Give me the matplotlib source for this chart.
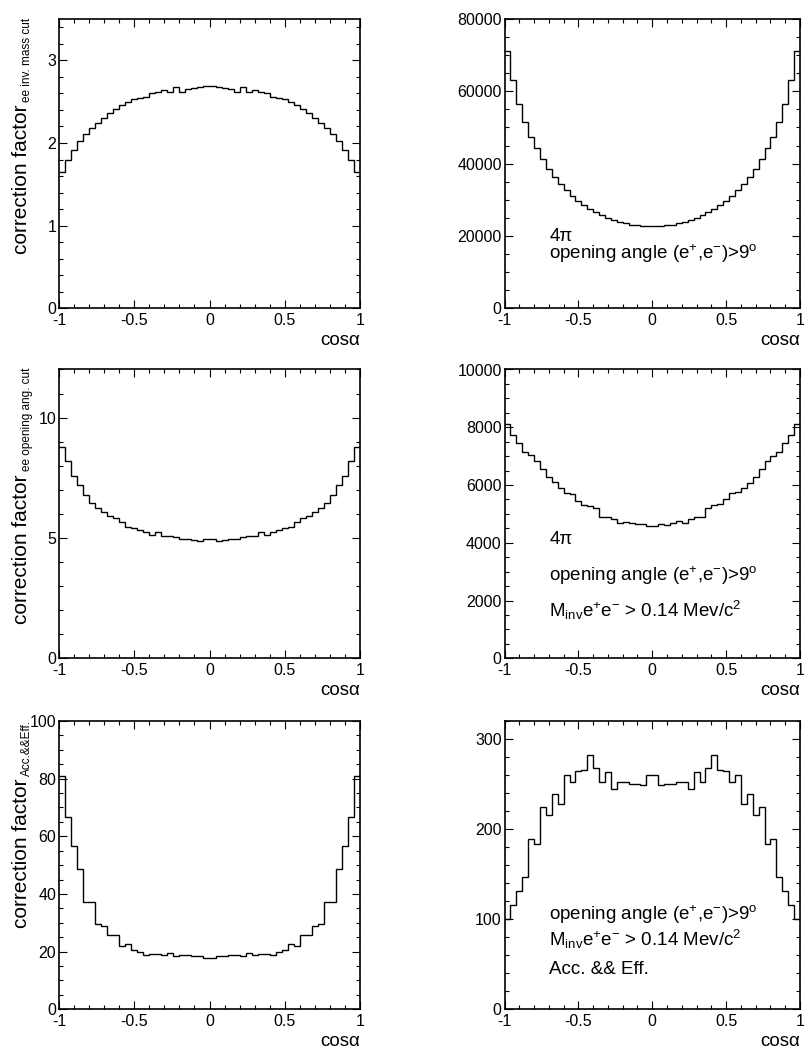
#!/usr/bin/env python3
"""
Angular correction factors and cos(alpha) distributions for e+e- pairs,
shown as 50-bin histograms in a 3x2 grid.
"""
import numpy as np
import matplotlib
matplotlib.use("Agg")
import matplotlib.pyplot as plt
from matplotlib.ticker import MultipleLocator, FuncFormatter

plt.rcParams["font.family"] = ["Liberation Sans", "DejaVu Sans"]
plt.rcParams["mathtext.fontset"] = "custom"
plt.rcParams["mathtext.rm"] = "Liberation Sans"
plt.rcParams["mathtext.it"] = "Liberation Sans:italic"
plt.rcParams["mathtext.default"] = "regular"
plt.rcParams["axes.unicode_minus"] = False

N_BINS = 50
X_LO, X_HI = -1.0, 1.0

# correction factor, e+e- invariant mass cut
corr_mass = [1.65, 1.80, 1.91, 2.03, 2.11, 2.18, 2.24, 2.30, 2.36, 2.41,
             2.46, 2.49, 2.53, 2.54, 2.56, 2.60, 2.62, 2.64, 2.62, 2.68,
             2.62, 2.65, 2.66, 2.68, 2.69, 2.69, 2.68, 2.66, 2.65, 2.62,
             2.68, 2.62, 2.64, 2.62, 2.60, 2.56, 2.54, 2.53, 2.49, 2.46,
             2.41, 2.36, 2.30, 2.24, 2.18, 2.11, 2.03, 1.91, 1.80, 1.65]

# 4pi, opening angle > 9 deg
counts_open = [71200, 63000, 56500, 51500, 47500, 44200, 41200, 38400, 36300, 34400,
               32700, 31100, 29700, 28600, 27500, 26500, 25700, 25000, 24400, 23900,
               23500, 23100, 22900, 22800, 22750, 22750, 22800, 22900, 23100, 23500,
               23900, 24400, 25000, 25700, 26500, 27500, 28600, 29700, 31100, 32700,
               34400, 36300, 38400, 41200, 44200, 47500, 51500, 56500, 63000, 71200]

# correction factor, e+e- opening angle cut
corr_open = [8.80, 8.19, 7.59, 7.19, 6.77, 6.47, 6.26, 6.07, 5.93, 5.82,
             5.68, 5.44, 5.43, 5.35, 5.24, 5.12, 5.25, 5.07, 5.07, 5.04,
             4.96, 4.96, 4.93, 4.86, 4.94, 4.94, 4.86, 4.93, 4.96, 4.96,
             5.04, 5.07, 5.07, 5.25, 5.12, 5.24, 5.35, 5.43, 5.44, 5.68,
             5.82, 5.93, 6.07, 6.26, 6.47, 6.77, 7.19, 7.59, 8.19, 8.80]

# 4pi, opening angle > 9 deg, M_inv > 0.14
counts_open_mass = [8110, 7730, 7470, 7150, 7030, 6840, 6570, 6280, 6110, 5890,
                    5740, 5700, 5450, 5320, 5270, 5190, 4900, 4900, 4810, 4690,
                    4730, 4670, 4635, 4635, 4590, 4590, 4650, 4620, 4690, 4740,
                    4670, 4830, 4900, 4900, 5190, 5310, 5330, 5500, 5710, 5760,
                    5900, 6080, 6280, 6570, 6840, 7010, 7150, 7470, 7730, 8110]

# correction factor, acceptance && efficiency
corr_acc = [81.0, 66.6, 56.8, 48.8, 37.1, 37.1, 29.5, 29.0, 25.6, 25.8,
            22.0, 22.7, 20.6, 20.0, 18.9, 19.2, 19.3, 18.9, 19.7, 18.5,
            18.7, 18.7, 18.6, 18.6, 17.7, 17.7, 18.6, 18.6, 18.7, 18.7,
            18.5, 19.7, 18.9, 19.3, 19.2, 18.9, 20.0, 20.6, 22.7, 22.0,
            25.8, 25.6, 29.0, 29.5, 37.1, 37.1, 48.8, 56.8, 66.6, 81.0]

# opening angle, M_inv, Acc. && Eff.
counts_acc = [100, 116, 131.5, 147, 189, 184, 224, 216, 239, 228,
              260, 252, 265, 266, 282, 268, 252, 263, 245, 252,
              252, 250, 250, 249, 260, 260, 249, 250, 250, 252,
              252, 245, 263, 252, 268, 282, 266, 265, 252, 260,
              228, 239, 216, 224, 184, 189, 147, 131.5, 116, 100]

TXT_OPEN = r"opening angle (e$^{+}$,e$^{-}$)>9$^{o}$"
TXT_MASS = r"M$_{inv}$e$^{+}$e$^{-}$ > 0.14 Mev/c$^{2}$"
TXT_ACC = "Acc. && Eff."

PANELS = [
    dict(values=corr_mass, ymax=3.5, major=1, minor=0.2, sub="ee inv. mass cut", notes=[]),
    dict(values=counts_open, ymax=80000, major=20000, minor=5000, sub=None,
         notes=[(0.233, "4π"), (0.172, TXT_OPEN)]),
    dict(values=corr_open, ymax=12, major=5, minor=1, sub="ee opening ang. cut", notes=[]),
    dict(values=counts_open_mass, ymax=10000, major=2000, minor=500, sub=None,
         notes=[(0.397, "4π"), (0.269, TXT_OPEN), (0.144, TXT_MASS)]),
    dict(values=corr_acc, ymax=100, major=20, minor=5, sub="Acc.&&Eff.", notes=[]),
    dict(values=counts_acc, ymax=320, major=100, minor=20, sub=None,
         notes=[(0.31, TXT_OPEN), (0.22, TXT_MASS), (0.122, TXT_ACC)]),
]

FIG_W, FIG_H = 809, 1049
COL_X = [(59, 301), (504.5, 295.5)]           # left, width in px
ROW_Y = [(19, 289.3), (369.5, 288.8), (721, 288.3)]  # top, height in px


def fmt(v, _pos):
    return f"{v:g}"


fig = plt.figure(figsize=(FIG_W / 100, FIG_H / 100), dpi=100)
edges = np.linspace(X_LO, X_HI, N_BINS + 1)

for i, p in enumerate(PANELS):
    row, col = divmod(i, 2)
    x0, w = COL_X[col]
    y0, h = ROW_Y[row]
    ax = fig.add_axes([x0 / FIG_W, 1 - (y0 + h) / FIG_H, w / FIG_W, h / FIG_H])

    ax.stairs(p["values"], edges, baseline=None, color="black", linewidth=1.0)

    ax.set_xlim(X_LO, X_HI)
    ax.set_ylim(0, p["ymax"])
    ax.xaxis.set_major_locator(MultipleLocator(0.5))
    ax.xaxis.set_minor_locator(MultipleLocator(0.1))
    ax.yaxis.set_major_locator(MultipleLocator(p["major"]))
    ax.yaxis.set_minor_locator(MultipleLocator(p["minor"]))
    ax.xaxis.set_major_formatter(FuncFormatter(fmt))
    ax.yaxis.set_major_formatter(FuncFormatter(fmt))
    ax.tick_params(which="both", direction="in", top=True, right=True,
                   labelsize=11.5, width=0.8)
    ax.tick_params(which="major", length=5.5)
    ax.tick_params(which="minor", length=2.8)
    ax.tick_params(axis="y", pad=2)
    ax.tick_params(axis="x", pad=3.5)
    for sp in ax.spines.values():
        sp.set_linewidth(1.2)

    ax.set_xlabel("cosα", loc="right", fontsize=13.5, labelpad=2.5)

    if p["sub"]:
        # title reads bottom-to-top: main text, then smaller subscript at the top end
        sub = ax.text(-0.097, 1.005, p["sub"], transform=ax.transAxes, fontsize=8.5,
                      rotation=90, rotation_mode="anchor", ha="right", va="baseline")
        ax.annotate("correction factor", xy=(-0.107, 0),
                    xycoords=("axes fraction", sub), xytext=(0, -2),
                    textcoords="offset points", fontsize=15, rotation=90,
                    rotation_mode="anchor", ha="right", va="baseline")

    for yf, s in p["notes"]:
        ax.text(0.152, yf, s, transform=ax.transAxes, fontsize=13.5,
                ha="left", va="baseline")

fig.savefig("out.png", dpi=100)
